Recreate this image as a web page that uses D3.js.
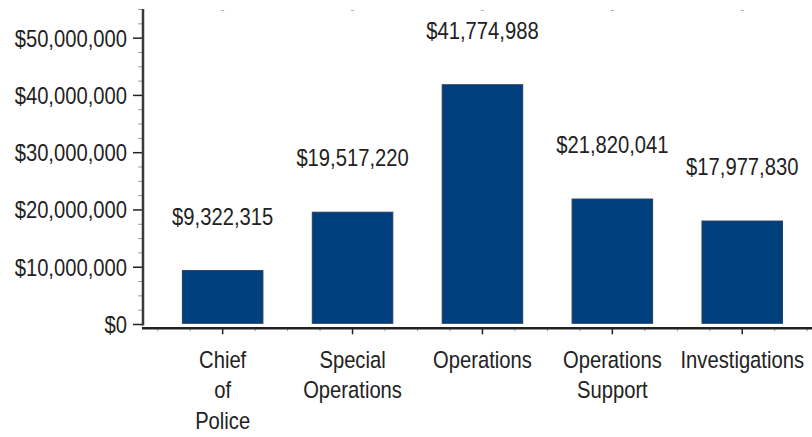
<!DOCTYPE html>
<html>
<head>
<meta charset="utf-8">
<script src="https://cdn.jsdelivr.net/npm/d3@7"></script>
<style>
  html, body { margin: 0; padding: 0; background: #fff; }
  svg { display: block; }
  text { font-family: "Liberation Sans", Arial, sans-serif; fill: #222; }
</style>
</head>
<body>
<svg id="chart" width="812" height="437"></svg>
<script>
// Budget by division
const divisions = ["Chief of Police", "Special Operations", "Operations", "Operations Support", "Investigations"];
const divisionLabelLines = [["Chief", "of", "Police"], ["Special", "Operations"], ["Operations"], ["Operations", "Support"], ["Investigations"]];
const budgets = [9322315, 19517220, 41774988, 21820041, 17977830];
const yMajorTicks = [0, 10000000, 20000000, 30000000, 40000000, 50000000];
const yMinorStep = 2500000;
const yMax = 55000000;

const svg = d3.select("#chart");
const fontSize = 23.5;
const narrow = 0.86;   // horizontal squeeze for a narrow face
const money = d3.format("$,");

const axisX = 143;       // y-axis position
const zeroY = 324;       // value 0
const topY = 9;          // value yMax
const baseLineY = 328.3; // x-axis line

const y = d3.scaleLinear().domain([0, yMax]).range([zeroY, topY]);
const x = d3.scaleBand().domain(divisions).range([157.7, 807.2]).paddingInner(0.38).paddingOuter(0.19);
const band = d3.scaleBand().domain(divisions).range([157.7, 807.2]);

// narrow text placed at (px, py)
function narrowText(parent, px, py, str, anchor) {
  return parent.append("text")
    .attr("transform", `translate(${px},${py}) scale(${narrow},1)`)
    .attr("text-anchor", anchor || "middle")
    .attr("font-size", fontSize)
    .text(str);
}

// minor y ticks
const yMinor = d3.range(0, yMax + 1, yMinorStep).filter(v => v % 10000000 !== 0);
svg.append("g")
  .attr("transform", `translate(${axisX},0)`)
  .call(d3.axisLeft(y).tickValues(yMinor).tickSize(5).tickFormat(""))
  .call(g => g.select(".domain").remove())
  .call(g => g.selectAll(".tick line").attr("stroke", "#9a9a9a").attr("stroke-width", 1));

// major y ticks and labels
svg.append("g")
  .attr("transform", `translate(${axisX},0)`)
  .call(d3.axisLeft(y).tickValues(yMajorTicks).tickSize(10).tickPadding(6).tickFormat(money))
  .call(g => g.select(".domain").remove())
  .call(g => g.selectAll(".tick line").attr("stroke", "#222").attr("stroke-width", 1.5))
  .call(g => g.selectAll(".tick text")
    .attr("font-size", fontSize)
    .attr("font-family", null)
    .attr("fill", "#222")
    .attr("x", -16 / narrow)
    .attr("transform", `scale(${narrow},1)`)
    .attr("dy", "0.36em"));

// y-axis line
svg.append("line")
  .attr("x1", axisX).attr("x2", axisX)
  .attr("y1", y(yMax)).attr("y2", zeroY + 1.5)
  .attr("stroke", "#3a3a3a").attr("stroke-width", 2.5);

// bars
svg.append("g")
  .selectAll("rect")
  .data(budgets)
  .join("rect")
  .attr("x", (d, i) => x(divisions[i]))
  .attr("width", x.bandwidth())
  .attr("y", d => y(d))
  .attr("height", d => y(0) - y(d) - 0.7)
  .attr("fill", "#003f7e")
  .attr("stroke", "#243f62")
  .attr("stroke-width", 1);

// value labels
const valG = svg.append("g");
budgets.forEach((d, i) => {
  narrowText(valG, x(divisions[i]) + x.bandwidth() / 2, y(d) - 46, money(d));
});

// x-axis: minor ticks at quarter-band positions
const xMinor = [];
divisions.forEach(c => {
  const b = band(c), w = band.bandwidth();
  xMinor.push(b, b + w / 4, b + 3 * w / 4);
});
xMinor.push(band.range()[1]);
svg.append("g")
  .selectAll("line")
  .data(xMinor)
  .join("line")
  .attr("x1", d => d).attr("x2", d => d)
  .attr("y1", baseLineY).attr("y2", baseLineY + 3)
  .attr("stroke", "#a0a0a0").attr("stroke-width", 1);

// x-axis major ticks at category centers
svg.append("g")
  .attr("transform", `translate(0,${baseLineY})`)
  .call(d3.axisBottom(band).tickSize(6).tickFormat(""))
  .call(g => g.select(".domain").remove())
  .call(g => g.selectAll(".tick line").attr("stroke", "#222").attr("stroke-width", 1.5));

// x-axis line
svg.append("line")
  .attr("x1", axisX - 1).attr("x2", 812)
  .attr("y1", baseLineY).attr("y2", baseLineY)
  .attr("stroke", "#222").attr("stroke-width", 2.5);

// faint top ticks at category centers
svg.append("g")
  .selectAll("line")
  .data(divisions)
  .join("line")
  .attr("x1", d => band(d) + band.bandwidth() / 2 - 1.5)
  .attr("x2", d => band(d) + band.bandwidth() / 2 + 1.5)
  .attr("y1", 10.5).attr("y2", 10.5)
  .attr("stroke", "#b0b0b0").attr("stroke-width", 1);

// category labels
const catG = svg.append("g");
divisionLabelLines.forEach((lines, i) => {
  const cx = band(divisions[i]) + band.bandwidth() / 2;
  lines.forEach((ln, j) => narrowText(catG, cx, 367.5 + j * 30.5, ln));
});
</script>
</body>
</html>
